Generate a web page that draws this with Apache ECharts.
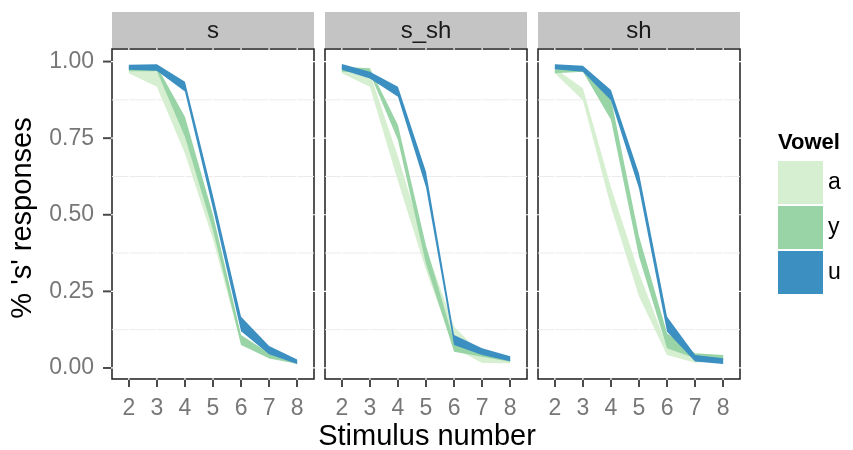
<!DOCTYPE html>
<html>
<head>
<meta charset="utf-8">
<script src="https://cdn.jsdelivr.net/npm/echarts@6/dist/echarts.min.js"></script>
<style>
  html, body { margin: 0; padding: 0; background: #ffffff; }
  #chart { width: 853px; height: 450px; }
</style>
</head>
<body>
<div id="chart"></div>
<script>
// Stimulus steps on the x axis
const stimulus = [2, 3, 4, 5, 6, 7, 8];
const yTicks = [0, 0.25, 0.5, 0.75, 1];
const yMinor = [0.125, 0.375, 0.625, 0.875];
const facets = ['s', 's_sh', 'sh'];
const vowels = ['a', 'y', 'u'];

// Ribbon bounds (proportion of 's' responses), facet "s"
const s_a_lo = [0.962, 0.918, 0.700, 0.420, 0.078, 0.030, 0.014];
const s_a_hi = [0.978, 0.968, 0.770, 0.470, 0.098, 0.044, 0.020];
const s_y_lo = [0.968, 0.968, 0.755, 0.450, 0.075, 0.032, 0.014];
const s_y_hi = [0.985, 0.985, 0.820, 0.500, 0.108, 0.048, 0.024];
const s_u_lo = [0.973, 0.970, 0.902, 0.520, 0.120, 0.045, 0.013];
const s_u_hi = [0.990, 0.991, 0.934, 0.562, 0.167, 0.072, 0.028];

// Facet "s_sh"
const ssh_a_lo = [0.962, 0.918, 0.610, 0.320, 0.065, 0.016, 0.015];
const ssh_a_hi = [0.983, 0.962, 0.690, 0.390, 0.135, 0.042, 0.030];
const ssh_y_lo = [0.967, 0.962, 0.744, 0.340, 0.053, 0.037, 0.020];
const ssh_y_hi = [0.983, 0.978, 0.793, 0.400, 0.086, 0.059, 0.035];
const ssh_u_lo = [0.973, 0.945, 0.885, 0.590, 0.075, 0.042, 0.022];
const ssh_u_hi = [0.992, 0.967, 0.918, 0.640, 0.108, 0.064, 0.038];

// Facet "sh"
const sh_a_lo = [0.962, 0.874, 0.526, 0.233, 0.042, 0.017, 0.026];
const sh_a_hi = [0.978, 0.913, 0.590, 0.310, 0.070, 0.030, 0.042];
const sh_y_lo = [0.962, 0.967, 0.810, 0.363, 0.064, 0.032, 0.026];
const sh_y_hi = [0.978, 0.978, 0.880, 0.430, 0.113, 0.048, 0.042];
const sh_u_lo = [0.975, 0.967, 0.874, 0.586, 0.118, 0.021, 0.013];
const sh_u_hi = [0.991, 0.986, 0.907, 0.635, 0.167, 0.042, 0.032];

const bands = [
  { a: [s_a_lo, s_a_hi], y: [s_y_lo, s_y_hi], u: [s_u_lo, s_u_hi] },
  { a: [ssh_a_lo, ssh_a_hi], y: [ssh_y_lo, ssh_y_hi], u: [ssh_u_lo, ssh_u_hi] },
  { a: [sh_a_lo, sh_a_hi], y: [sh_y_lo, sh_y_hi], u: [sh_u_lo, sh_u_hi] }
];

const vowelColors = { a: '#D6EFD0', y: '#99D4A6', u: '#3B8FC1' };
const FONT = '"Liberation Sans", Arial, Helvetica, sans-serif';
const TICK_COLOR = '#4a4a4a';

// Panel layout
const panelLeft = [112, 325, 538];
const panelWidth = 202;
const panelTop = 49;
const panelHeight = 330;
const stripTop = 12;
const stripHeight = 36;
const X_MIN = 1.4, X_MAX = 8.6;
const Y_MIN = -0.036, Y_MAX = 1.041;

const chart = echarts.init(document.getElementById('chart'), null, { renderer: 'canvas' });

const grids = [], xAxes = [], yAxes = [], series = [], graphics = [];

facets.forEach((f, k) => {
  grids.push({
    left: panelLeft[k], top: panelTop, width: panelWidth, height: panelHeight,
    show: true, borderColor: '#1e1e1e', borderWidth: 1.5, backgroundColor: '#ffffff'
  });
  xAxes.push({
    gridIndex: k, type: 'value', min: X_MIN, max: X_MAX,
    axisLine: { show: false, onZero: false },
    splitLine: { show: false },
    axisTick: { show: true, customValues: stimulus, length: 8, lineStyle: { color: TICK_COLOR, width: 2 } },
    axisLabel: { show: true, customValues: stimulus, margin: 18, color: '#777777', fontSize: 23, fontFamily: FONT }
  });
  yAxes.push({
    gridIndex: k, type: 'value', min: Y_MIN, max: Y_MAX,
    axisLine: { show: false, onZero: false },
    splitLine: { show: false },
    axisTick: { show: false },
    axisLabel: {
      show: k === 0, customValues: yTicks, margin: 18, color: '#777777', fontSize: 23, fontFamily: FONT,
      formatter: v => v.toFixed(2)
    }
  });

  // Panel grid lines: light minor rows, white major rows/columns
  series.push({
    type: 'custom', xAxisIndex: k, yAxisIndex: k, silent: true, z: 1,
    data: [[5, 0.5]],
    renderItem: (params, api) => {
      const cs = params.coordSys;
      const kids = [];
      yMinor.forEach(v => {
        const p = api.coord([5, v]);
        kids.push({ type: 'line', shape: { x1: cs.x, y1: p[1], x2: cs.x + cs.width, y2: p[1] },
          style: { stroke: '#EBEBEB', lineWidth: 1 } });
      });
      stimulus.forEach(v => {
        const p = api.coord([v, 0.5]);
        kids.push({ type: 'line', shape: { x1: p[0], y1: cs.y - 1, x2: p[0], y2: cs.y + cs.height + 1 },
          style: { stroke: '#ffffff', lineWidth: 1.2 } });
      });
      yTicks.forEach(v => {
        const p = api.coord([5, v]);
        kids.push({ type: 'line', shape: { x1: cs.x - 1, y1: p[1], x2: cs.x + cs.width + 1, y2: p[1] },
          style: { stroke: '#ffffff', lineWidth: 1.2 } });
      });
      return { type: 'group', children: kids };
    }
  });

  // Confidence ribbons, one polygon per vowel
  vowels.forEach((v, j) => {
    const lo = bands[k][v][0], hi = bands[k][v][1];
    series.push({
      type: 'custom', name: v, xAxisIndex: k, yAxisIndex: k, z: 2 + j,
      itemStyle: { color: vowelColors[v] },
      data: stimulus.map((x, i) => [x, lo[i], hi[i]]),
      encode: { x: 0, y: [1, 2] },
      renderItem: (params, api) => {
        if (params.dataIndex !== 0) return null;
        const upper = stimulus.map((x, i) => api.coord([x, hi[i]]));
        const lower = stimulus.map((x, i) => api.coord([x, lo[i]])).reverse();
        return { type: 'polygon', shape: { points: upper.concat(lower) },
          style: { fill: vowelColors[v] } };
      }
    });
  });

  // Facet strip
  graphics.push({
    type: 'rect', left: panelLeft[k], top: stripTop,
    shape: { width: panelWidth, height: stripHeight },
    style: { fill: '#C4C4C4' }, silent: true
  });
  graphics.push({
    type: 'text', x: panelLeft[k] + panelWidth / 2, y: stripTop + stripHeight / 2 + 1,
    style: { text: f, fill: '#1a1a1a', font: '24px ' + FONT, align: 'center', verticalAlign: 'middle' },
    silent: true
  });
});

// Axis titles and legend heading
graphics.push({
  type: 'text', x: 427, y: 437,
  style: { text: 'Stimulus number', fill: '#000000', font: '29px ' + FONT, align: 'center', verticalAlign: 'middle' }
});
graphics.push({
  type: 'text', x: 23, y: 218, rotation: Math.PI / 2,
  style: { text: "% 's' responses", fill: '#000000', font: '29px ' + FONT, align: 'center', verticalAlign: 'middle' }
});
graphics.push({
  type: 'text', x: 778, y: 143,
  style: { text: 'Vowel', fill: '#000000', font: 'bold 22px ' + FONT, align: 'left', verticalAlign: 'middle' }
});

chart.setOption({
  animation: false,
  backgroundColor: '#ffffff',
  grid: grids,
  xAxis: xAxes,
  yAxis: yAxes,
  legend: {
    data: vowels, orient: 'vertical', left: 773, top: 156,
    icon: 'rect', itemWidth: 45, itemHeight: 43, itemGap: 2,
    selectedMode: false,
    textStyle: { fontSize: 23, color: '#000000', fontFamily: FONT }
  },
  graphic: graphics,
  series: series
});

// Left-hand ticks of the first panel, positioned through that panel's y scale,
// drawn on their own layer above everything else
const tickMarks = yTicks.map((v, i) => {
  const p = chart.convertToPixel({ xAxisIndex: 0, yAxisIndex: 0 }, [X_MIN, v]);
  return {
    id: 'ytick' + i, type: 'rect', silent: true, zlevel: 2, z: 100,
    shape: { x: p[0] - 9, y: p[1] - 1, width: 8, height: 2 },
    style: { fill: TICK_COLOR }
  };
});
chart.setOption({ graphic: { elements: tickMarks } });
</script>
</body>
</html>
